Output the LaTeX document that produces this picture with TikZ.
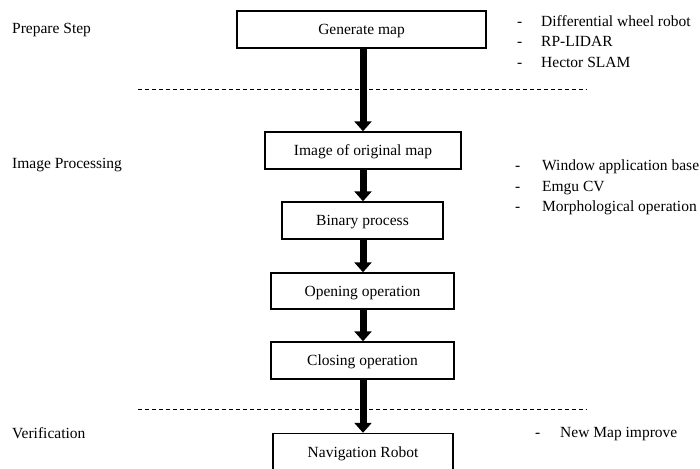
\documentclass[tikz,border=0pt]{standalone}
\usepackage{fontspec}
\setmainfont{Liberation Serif}
\usetikzlibrary{arrows.meta}
\begin{document}
\begin{tikzpicture}[x=1pt,y=-1pt,
  every node/.style={font=\fontsize{15.5}{18}\selectfont},
  procbox/.style={draw,line width=1.4pt,inner sep=0pt,align=center,text height=10.5pt,text depth=0pt},
  flow/.style={line width=7pt,-{Triangle[width=17pt,length=10pt]}},
  sep/.style={line width=0.9pt,dash pattern=on 4pt off 3pt},
  lbl/.style={anchor=west,inner sep=0pt,text height=11pt,text depth=0pt}]
\clip (0,0) rectangle (700,468);
\fill[white] (0,0) rectangle (700,468);
% boxes
\node[procbox,minimum width=249pt,minimum height=37pt] (gen) at (361.5,29.5) {Generate map};
\node[procbox,minimum width=196pt,minimum height=37pt] (img) at (363,150.5) {Image of original map};
\node[procbox,minimum width=161pt,minimum height=37pt] (bin) at (362.5,220.5) {Binary process};
\node[procbox,minimum width=183pt,minimum height=36pt] (open) at (362.5,291) {Opening operation};
\node[procbox,minimum width=183pt,minimum height=37pt] (close) at (362.5,360.5) {Closing operation};
\node[procbox,minimum width=180pt,minimum height=37pt] (nav) at (363,452) {Navigation Robot};
% arrows
\draw[flow] (gen.south -| img.north) -- (img.north);
\draw[flow] (img.south) -- (img.south |- bin.north);
\draw[flow] (img.south |- bin.south) -- (img.south |- open.north);
\draw[flow] (img.south |- open.south) -- (img.south |- close.north);
\draw[flow] (img.south |- close.south) -- (nav.north);
% separators
\coordinate (s1a) at (138,89);
\coordinate (s1b) at (587,89);
\coordinate (s2a) at (138,409);
\coordinate (s2b) at (587,409);
\draw[sep] (s1a) -- (s1b);
\draw[sep] (s2a) -- (s2b);
% phase labels
\node[lbl] (ph1) at (12,28) {Prepare Step};
\node[lbl] (ph2) at (12,163) {Image Processing};
\node[lbl] (ph3) at (12,432.5) {Verification};
% notes
\node[lbl] (d1) at (517,21.2) {-};
\node[lbl] (t1) at (541,21.2) {Differential wheel robot};
\node[lbl] (d2) at (517,41.5) {-};
\node[lbl] (t2) at (541,41.5) {RP-LIDAR};
\node[lbl] (d3) at (517,62) {-};
\node[lbl] (t3) at (541,62) {Hector SLAM};
\node[lbl] (d4) at (515,165.2) {-};
\node[lbl] (t4) at (542,165.2) {Window application base};
\node[lbl] (d5) at (515,185.5) {-};
\node[lbl] (t5) at (542,185.5) {Emgu CV};
\node[lbl] (d6) at (515,206) {-};
\node[lbl] (t6) at (542,206) {Morphological operation};
\node[lbl] (d7) at (535,432) {-};
\node[lbl] (t7) at (560,432) {New Map improve};
\end{tikzpicture}
\end{document}
